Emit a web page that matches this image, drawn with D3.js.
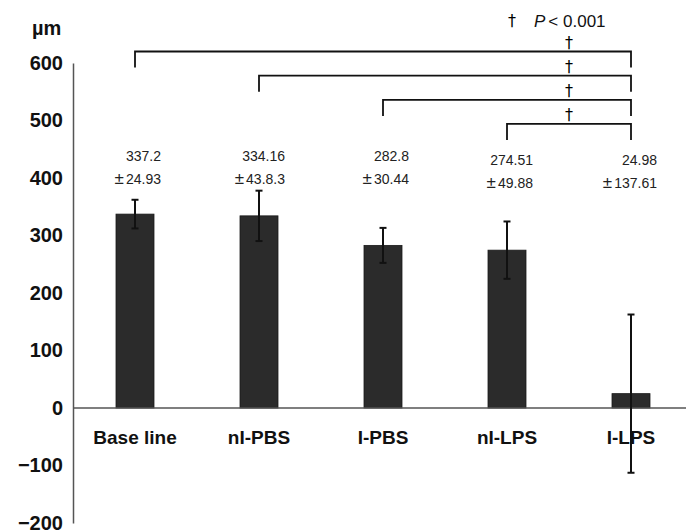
<!DOCTYPE html>
<html>
<head>
<meta charset="utf-8">
<script src="https://cdn.jsdelivr.net/npm/d3@7"></script>
<style>
  html, body { margin: 0; padding: 0; background: #fff; }
  svg { display: block; }
</style>
</head>
<body>
<script>
// ---- data ----
const categories = ["Base line", "nI-PBS", "I-PBS", "nI-LPS", "I-LPS"];
const means = [337.2, 334.16, 282.8, 274.51, 24.98];
const sds = [24.93, 43.8, 30.44, 49.88, 137.61];
const meanLabels = ["337.2", "334.16", "282.8", "274.51", "24.98"];
const sdLabels = ["24.93", "43.8.3", "30.44", "49.88", "137.61"];
const yTicks = [-200, -100, 0, 100, 200, 300, 400, 500, 600];
const comparisons = [[0, 4], [1, 4], [2, 4], [3, 4]];
const unitLabel = "µm";
const sigMark = "†";
const sigNote = "< 0.001";

// ---- layout ----
const W = 686, H = 531;
const axisX = 73;
const svg = d3.select("body").append("svg").attr("width", W).attr("height", H);

const y = d3.scaleLinear().domain([-200, 600]).range([523, 63]);
const x = d3.scalePoint().domain(categories).range([axisX, 693]).padding(0.5);
const barW = 38;
const boldFont = "'Liberation Sans', Arial, sans-serif";

// bars
svg.append("g").selectAll("rect").data(categories).join("rect")
  .attr("x", d => x(d) - barW / 2)
  .attr("width", barW)
  .attr("y", (d, i) => y(Math.max(0, means[i])))
  .attr("height", (d, i) => Math.abs(y(means[i]) - y(0)))
  .attr("fill", "#2b2b2b")
  .attr("stroke", "#1a1a1a")
  .attr("stroke-width", 0.8);

// y axis (line + labels)
const yAxis = d3.axisLeft(y).tickValues(yTicks).tickSize(0).tickPadding(10)
  .tickFormat(d3.format("d"));
const gy = svg.append("g").attr("transform", `translate(${axisX},0)`).call(yAxis);
gy.select(".domain").attr("stroke", "#555").attr("stroke-width", 1.5);
gy.selectAll("text")
  .attr("font-family", boldFont)
  .attr("font-weight", "bold")
  .attr("font-size", 20)
  .attr("fill", "#111")
  .text(d => d < 0 ? "\u2212" + Math.abs(d) : d);

// zero line
svg.append("line")
  .attr("x1", axisX).attr("x2", W)
  .attr("y1", y(0)).attr("y2", y(0))
  .attr("stroke", "#555").attr("stroke-width", 1.5);

// error bars
const eb = svg.append("g").attr("stroke", "#111").attr("stroke-width", 2);
categories.forEach((c, i) => {
  const cx = x(c), hi = y(means[i] + sds[i]), lo = y(means[i] - sds[i]);
  eb.append("line").attr("x1", cx).attr("x2", cx).attr("y1", hi).attr("y2", lo);
  eb.append("line").attr("x1", cx - 3.5).attr("x2", cx + 3.5).attr("y1", hi).attr("y2", hi);
  eb.append("line").attr("x1", cx - 3.5).attr("x2", cx + 3.5).attr("y1", lo).attr("y2", lo);
});

// x category labels
svg.append("g").selectAll("text").data(categories).join("text")
  .attr("x", d => x(d))
  .attr("y", 444)
  .attr("text-anchor", "middle")
  .attr("font-family", boldFont)
  .attr("font-weight", "bold")
  .attr("font-size", 19)
  .attr("fill", "#111")
  .text(d => d);

// value labels
const vl = svg.append("g")
  .attr("font-family", "'Liberation Sans', Arial, sans-serif")
  .attr("font-size", 14)
  .attr("fill", "#222")
  .attr("text-anchor", "end");
categories.forEach((c, i) => {
  const dy = i < 3 ? 0 : 4;
  vl.append("text").attr("x", x(c) + 26).attr("y", 161 + dy).text(meanLabels[i]);
  const t = vl.append("text").attr("x", x(c) + 26).attr("y", 184 + dy);
  t.append("tspan").attr("font-size", 17).text("±");
  t.append("tspan").attr("dx", 2).text(sdLabels[i]);
});

// unit label
svg.append("text")
  .attr("x", 32).attr("y", 35)
  .attr("font-family", boldFont)
  .attr("font-weight", "bold")
  .attr("font-size", 20)
  .attr("fill", "#111")
  .text(unitLabel);

// significance brackets
const topLevel = 620, levelStep = 42, legLen = 28;
const br = svg.append("g").attr("fill", "none").attr("stroke", "#111").attr("stroke-width", 1.8);
const daggerX = (x(categories[3]) + x(categories[4])) / 2;
comparisons.forEach(([a, b], k) => {
  const yl = y(topLevel - k * levelStep);
  const yb = y(topLevel - k * levelStep - legLen);
  const xa = x(categories[a]), xb = x(categories[b]);
  br.append("path").attr("d", `M${xa},${yb}V${yl}H${xb}V${yb}`);
  svg.append("text")
    .attr("x", daggerX).attr("y", yl - 4)
    .attr("text-anchor", "middle")
    .attr("font-family", "'DejaVu Sans', sans-serif")
    .attr("font-size", 16)
    .attr("fill", "#000")
    .text(sigMark);
});

// legend note
const noteFont = "'Liberation Sans', Arial, sans-serif";
svg.append("text")
  .attr("x", 512).attr("y", 26).attr("text-anchor", "middle")
  .attr("font-family", "'DejaVu Sans', sans-serif").attr("font-size", 16)
  .attr("fill", "#000").text(sigMark);
const note = svg.append("text")
  .attr("x", 534).attr("y", 27)
  .attr("font-family", noteFont)
  .attr("font-size", 17)
  .attr("fill", "#111");
note.append("tspan").attr("font-style", "italic").text("P");
note.append("tspan").attr("dx", 3).text(sigNote);
</script>
</body>
</html>
